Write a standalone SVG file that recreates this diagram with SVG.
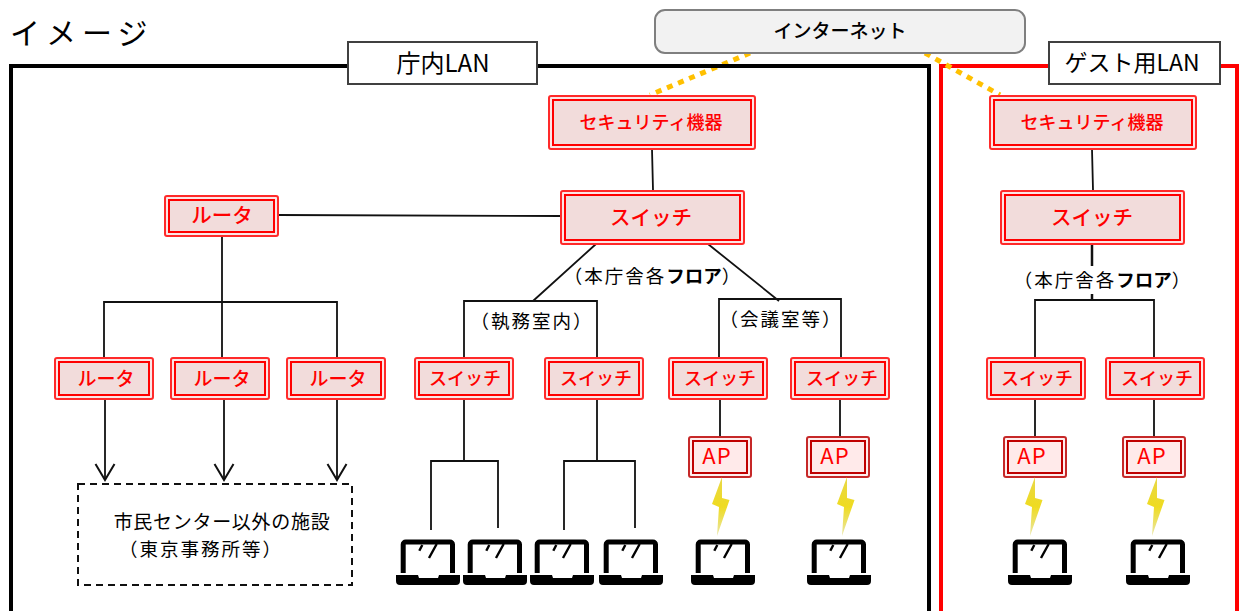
<svg xmlns="http://www.w3.org/2000/svg" width="1240" height="611" viewBox="0 0 1240 611">
<style>
text{font-family:"Noto Sans CJK JP","Noto Sans",sans-serif;text-anchor:middle}
.o{fill:#fbe6e6;stroke:#ff2a2a;stroke-width:2}
.i{fill:#f2dcdb;stroke:#ff0000;stroke-width:2}
.ao{fill:#ffeeee;stroke:#c62828;stroke-width:2}
.ai{fill:#ffeaea;stroke:#c00000;stroke-width:2}
.t{fill:#ff0000;font-size:19px;font-weight:500}
.c{font-size:18px}
.r{font-size:20.500px}
.s{font-size:18px}
.a{font-size:22px;font-weight:400;letter-spacing:1px}
.b{fill:#000;font-size:18.500px;letter-spacing:2px}
.k{font-weight:700;letter-spacing:0}
.n{fill:#000}
.l{fill:none;stroke:#111;stroke-width:1.800}
.d{fill:none;stroke:#ffc000;stroke-width:5;stroke-dasharray:6 6}
.lab{fill:#fff;stroke:#404040;stroke-width:2}
</style>
<defs>
<marker id="open" markerWidth="24" markerHeight="24" refX="22" refY="12" orient="auto" markerUnits="userSpaceOnUse"><path d="M6 2.500L22 12L6 21.500" fill="none" stroke="#111" stroke-width="2"/></marker>
<linearGradient id="bg" x1="0" y1="0" x2="0" y2="1"><stop offset="0" stop-color="#e8d84a"/><stop offset=".5" stop-color="#efdb20"/><stop offset="1" stop-color="#e9e6a8"/></linearGradient>
<filter id="soft" x="-30%" y="-10%" width="160%" height="120%"><feGaussianBlur stdDeviation="0.700"/></filter>
<g id="laptop">
<path d="M7.200 35V6.500a2.500 2.500 0 0 1 2.500-2.500H54a2.500 2.500 0 0 1 2.500 2.500V35" fill="none" stroke="#000" stroke-width="5"/>
<path d="M26.300 7L23.300 12.700M40.700 6L33 20" fill="none" stroke="#000" stroke-width="2.400"/>
<path d="M0 37H22l1 3H42l1-3H64V43q0 4-4 4H4q-4 0-4-4z" fill="#000"/>
</g>
<path id="bolt" d="M722 477L712 504L719 507L717 536L729.500 500L722 498Z" fill="url(#bg)" filter="url(#soft)"/>
</defs>

<text x="10" y="44" style="font-size:30px;letter-spacing:6px;text-anchor:start" fill="#000">イメージ</text>

<path class="d" d="M750 53L650 95"/>
<g id="frame-main"><path d="M11 611V66H929V611" fill="none" stroke="#000" stroke-width="4"/></g>
<g id="frame-guest"><path d="M941 611V66H1237V611" fill="none" stroke="#f00" stroke-width="4"/></g>
<path class="d" d="M925 53L1000 95"/>

<g id="connectors">
<path class="l" d="M652 149L653 190M278 215L560 216M222 237V302M104 357V302H337V357M222 302V357"/>
<path class="l" marker-end="url(#open)" d="M105 399V480"/>
<path class="l" marker-end="url(#open)" d="M224 399V480"/>
<path class="l" marker-end="url(#open)" d="M337 399V480"/>
<path class="l" d="M596 244L533 301M708 244L779 301M464 357V301H597V357M719 357V299H841V357"/>
<path class="l" d="M464 399V461M431 530V461H498V528M597 399V461M564 530V461H635V528"/>
<path class="l" d="M720 399V436M840 399V436"/>
<path class="l" d="M1092 149L1093 190M1035 357V300H1154V357M1035 399V436M1154 399V436"/>
<path class="l" style="stroke-width:2.500" d="M1092 244V266M1092 294V300"/>
</g>

<g id="internet"><rect x="655" y="10" width="370" height="43" rx="10" fill="#f2f2f2" stroke="#7f7f7f" stroke-width="2"/><text class="n" x="840" y="38" style="font-size:19px;font-weight:500">インターネット</text></g>
<g id="label-main"><rect class="lab" x="348" y="42" width="189" height="42"/><text class="n" x="443" y="72" style="font-size:24px">庁内LAN</text></g>
<g id="label-guest"><rect class="lab" x="1049" y="42" width="171" height="42"/><text class="n" x="1132" y="71" style="font-size:23px">ゲスト用LAN</text></g>

<g id="sec1"><rect class="o" x="549" y="96" width="206" height="53" rx="2"/><rect class="i" x="553" y="100" width="198" height="45"/><text class="t c" x="651" y="129">セキュリティ機器</text></g>
<g id="sw1"><rect class="o" x="561" y="191" width="183" height="53" rx="2"/><rect class="i" x="565" y="195" width="175" height="45"/><text class="t r" x="651" y="225">スイッチ</text></g>
<g id="rt1"><rect class="o" x="165" y="196" width="113" height="40" rx="2"/><rect class="i" x="169" y="200" width="105" height="32"/><text class="t r" x="222" y="223">ルータ</text></g>
<g id="sec2"><rect class="o" x="990" y="96" width="206" height="53" rx="2"/><rect class="i" x="994" y="100" width="198" height="45"/><text class="t c" x="1092" y="129">セキュリティ機器</text></g>
<g id="sw2"><rect class="o" x="1001" y="191" width="183" height="53" rx="2"/><rect class="i" x="1005" y="195" width="175" height="45"/><text class="t r" x="1092" y="225">スイッチ</text></g>

<g id="rt2"><rect class="o" x="55" y="358" width="98" height="41" rx="2"/><rect class="i" x="59" y="362" width="90" height="33"/><text class="t" x="106" y="386">ルータ</text></g>
<g id="rt3"><rect class="o" x="171" y="358" width="98" height="41" rx="2"/><rect class="i" x="175" y="362" width="90" height="33"/><text class="t" x="222" y="386">ルータ</text></g>
<g id="rt4"><rect class="o" x="287" y="358" width="98" height="41" rx="2"/><rect class="i" x="291" y="362" width="90" height="33"/><text class="t" x="338" y="386">ルータ</text></g>
<g id="sw3"><rect class="o" x="415" y="358" width="98" height="41" rx="2"/><rect class="i" x="419" y="362" width="90" height="33"/><text class="t s" x="465" y="385">スイッチ</text></g>
<g id="sw4"><rect class="o" x="545" y="358" width="98" height="41" rx="2"/><rect class="i" x="549" y="362" width="90" height="33"/><text class="t s" x="596" y="385">スイッチ</text></g>
<g id="sw5"><rect class="o" x="669" y="358" width="98" height="41" rx="2"/><rect class="i" x="673" y="362" width="90" height="33"/><text class="t s" x="720" y="385">スイッチ</text></g>
<g id="sw6"><rect class="o" x="791" y="358" width="98" height="41" rx="2"/><rect class="i" x="795" y="362" width="90" height="33"/><text class="t s" x="842" y="385">スイッチ</text></g>
<g id="sw7"><rect class="o" x="987" y="358" width="98" height="41" rx="2"/><rect class="i" x="991" y="362" width="90" height="33"/><text class="t s" x="1037" y="385">スイッチ</text></g>
<g id="sw8"><rect class="o" x="1106" y="358" width="98" height="41" rx="2"/><rect class="i" x="1110" y="362" width="90" height="33"/><text class="t s" x="1157" y="385">スイッチ</text></g>

<g id="ap1"><rect class="ao" x="689" y="437" width="62" height="40" rx="2"/><rect class="ai" x="693" y="441" width="54" height="32"/><text class="t a" x="717" y="464">AP</text></g>
<g id="ap2"><rect class="ao" x="807" y="437" width="62" height="40" rx="2"/><rect class="ai" x="811" y="441" width="54" height="32"/><text class="t a" x="835" y="464">AP</text></g>
<g id="ap3"><rect class="ao" x="1004" y="437" width="62" height="40" rx="2"/><rect class="ai" x="1008" y="441" width="54" height="32"/><text class="t a" x="1032" y="464">AP</text></g>
<g id="ap4"><rect class="ao" x="1123" y="437" width="62" height="40" rx="2"/><rect class="ai" x="1127" y="441" width="54" height="32"/><text class="t a" x="1152" y="464">AP</text></g>

<use href="#bolt"/><use href="#bolt" x="125"/><use href="#bolt" x="313"/><use href="#bolt" x="435"/>

<g id="laptops">
<use href="#laptop" x="396" y="538"/><use href="#laptop" x="463" y="538"/><use href="#laptop" x="530" y="538"/><use href="#laptop" x="599" y="538"/><use href="#laptop" x="691" y="538"/><use href="#laptop" x="807" y="538"/><use href="#laptop" x="1008" y="538"/><use href="#laptop" x="1126" y="538"/>
</g>

<g id="facility"><rect x="78" y="484" width="274" height="101" fill="#fff" stroke="#111" stroke-width="2" stroke-dasharray="7 5"/>
<text x="222" y="529" class="b" style="font-size:19px;letter-spacing:.7px">市民センター以外の施設</text>
<text x="201" y="556" class="b">（東京事務所等）</text></g>

<text class="b" x="653" y="283">（本庁舎各<tspan class="k">フロア</tspan>）</text>
<text class="b" x="532" y="328">（執務室内）</text>
<text class="b" x="781" y="326">（会議室等）</text>
<text class="b" x="1103" y="287">（本庁舎各<tspan class="k">フロア</tspan>）</text>
</svg>
